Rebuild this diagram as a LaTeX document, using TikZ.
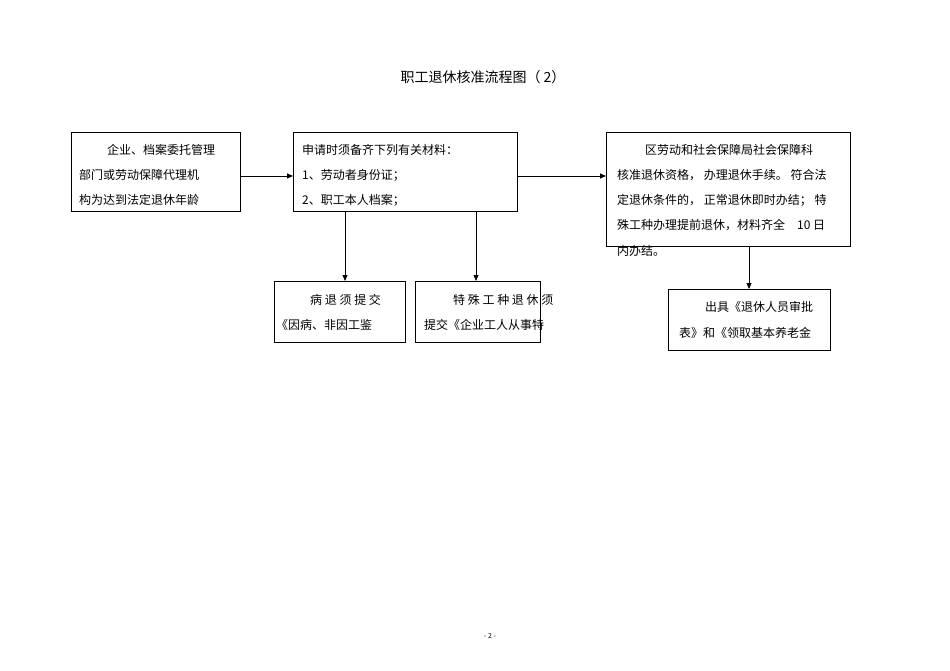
\documentclass[tikz,border=0pt]{standalone}
\usepackage{fontspec}
\setmainfont{Noto Sans CJK SC}
\usetikzlibrary{arrows.meta}
\begin{document}
\begin{tikzpicture}[x=1pt,y=-1pt,
  box/.style={draw,line width=0.8pt},
  tx/.style={anchor=west,inner sep=0pt,font=\fontsize{12pt}{14pt}\selectfont},
  arr/.style={-{Triangle[length=6pt,width=5pt]},line width=0.8pt}]
\useasboundingbox (0,0) rectangle (950,671);
\node[font=\fontsize{14pt}{16pt}\selectfont] (title) at (483,77) {职工退休核准流程图（ 2）};
\draw[box] (71,132) rectangle (240,211); \coordinate (Ar) at (240,176);
\draw[box] (293,132) rectangle (517,211); \coordinate (Bl) at (293,176); \coordinate (Br) at (517,176);
\coordinate (B1) at (345,211); \coordinate (B2) at (476,211);
\draw[box] (606,132) rectangle (850,246); \coordinate (Cl) at (606,176); \coordinate (Cb) at (749,246);
\draw[box] (274,281) rectangle (405,342); \coordinate (Dt) at (345,281);
\draw[box] (415,281) rectangle (540,342); \coordinate (Et) at (476,281);
\draw[box] (668,289) rectangle (830,350); \coordinate (Ft) at (749,289);
\draw[arr] (Ar) -- (Bl);
\draw[arr] (Br) -- (Cl);
\draw[arr] (B1) -- (Dt);
\draw[arr] (B2) -- (Et);
\draw[arr] (Cb) -- (Ft);
\node[tx] (a1) at (107,150) {企业、档案委托管理};
\node[tx] (a2) at (79,175) {部门或劳动保障代理机};
\node[tx] (a3) at (79,200) {构为达到法定退休年龄};
\node[tx] (b1) at (302,150) {申请时须备齐下列有关材料：};
\node[tx] (b2) at (302,175) {1、劳动者身份证；};
\node[tx] (b3) at (302,200) {2、职工本人档案；};
\node[tx] (c1) at (645,150) {区劳动和社会保障局社会保障科};
\node[tx] (c2) at (617,175) {核准退休资格，\ 办理退休手续。\ 符合法};
\node[tx] (c3) at (617,200) {定退休条件的，\ 正常退休即时办结；\ 特};
\node[tx] (c4) at (617,225) {殊工种办理提前退休，材料齐全\quad 10 日};
\node[tx] (c5) at (617,251) {内办结。};
\node[tx] (d1) at (310,300) {病\ 退\ 须\ 提\ 交};
\node[tx] (d2) at (276,325) {《因病、非因工鉴};
\node[tx] (e1) at (453,300) {特\ 殊\ 工\ 种\ 退\ 休\ 须};
\node[tx] (e2) at (424,325) {提交《企业工人从事特};
\node[tx] (f1) at (705,307) {出具《退休人员审批};
\node[tx] (f2) at (679,333) {表》和《领取基本养老金};
\node[font=\fontsize{7pt}{8pt}\selectfont] (pg) at (490,636) {- 2 -};
\end{tikzpicture}
\end{document}
